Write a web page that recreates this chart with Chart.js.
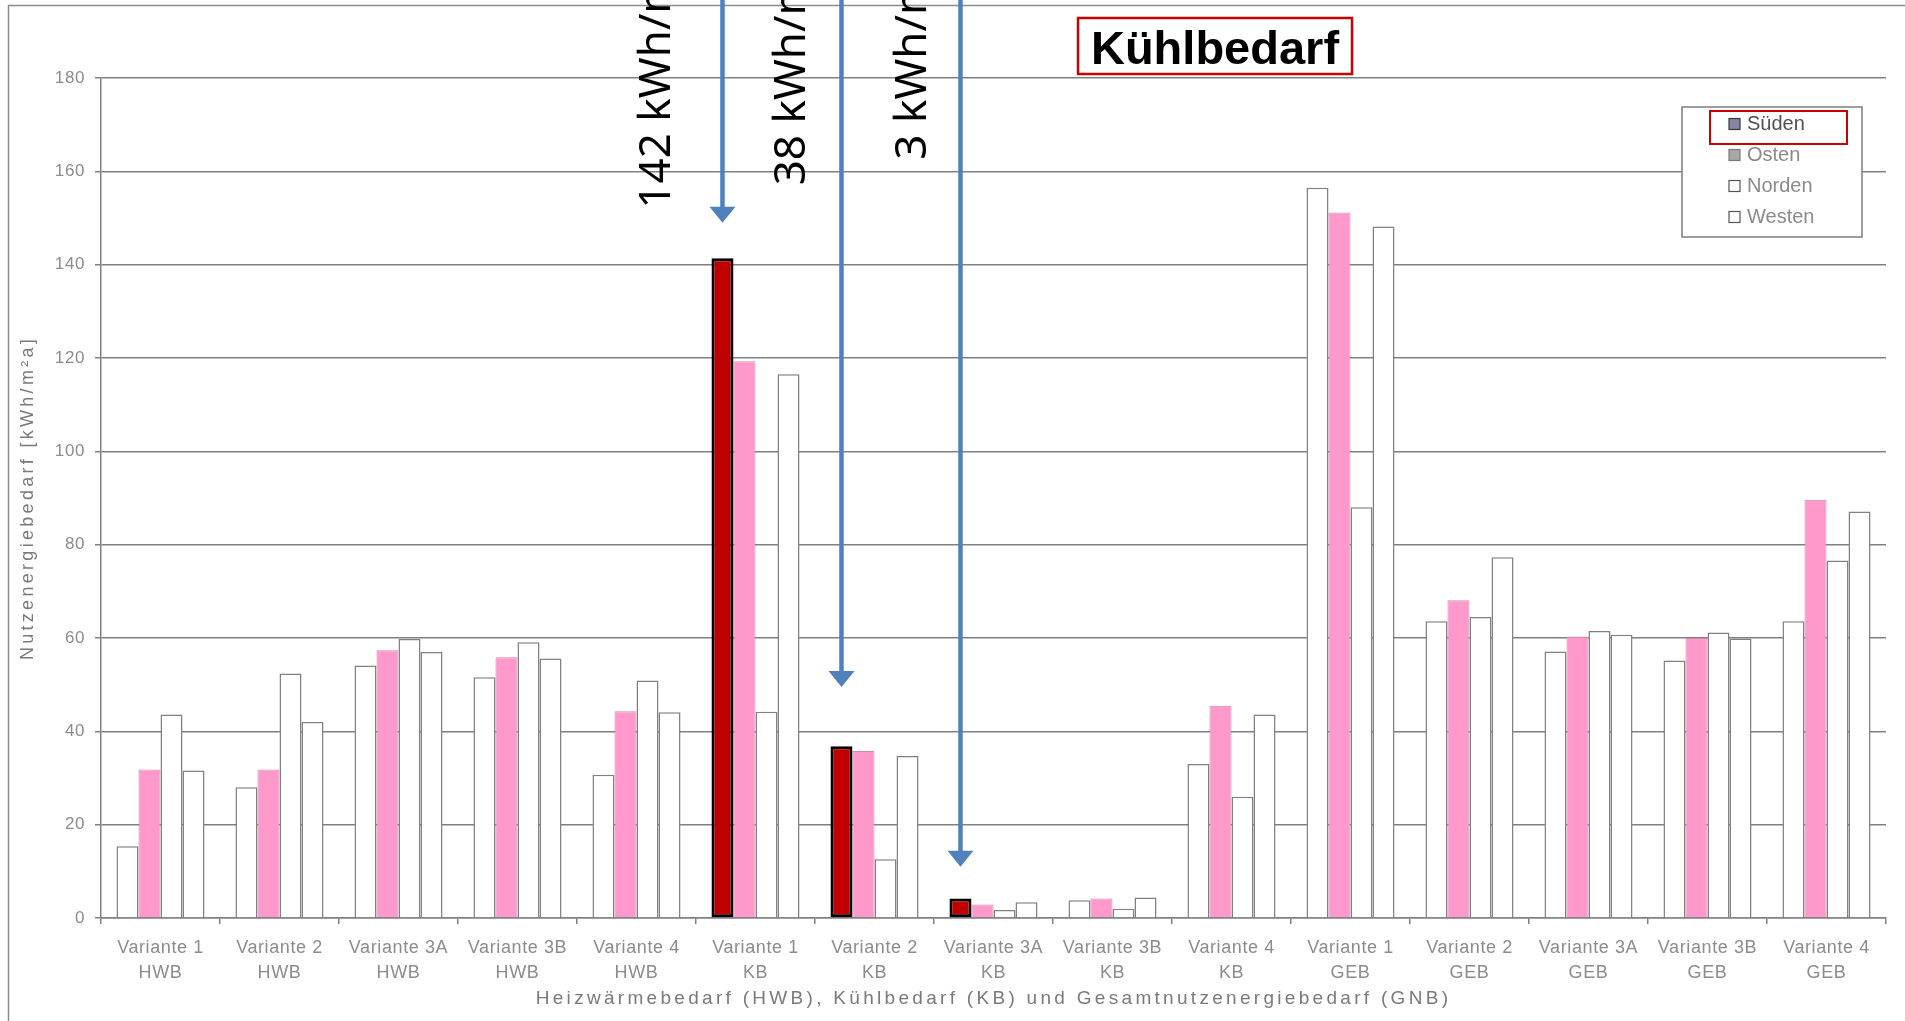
<!DOCTYPE html>
<html>
<head>
<meta charset="utf-8">
<script src="https://cdn.jsdelivr.net/npm/chart.js@4.4.1/dist/chart.umd.min.js"></script>
<style>
  html, body { margin: 0; padding: 0; background: #fff; }
  #wrap { width: 1905px; height: 1021px; }
</style>
</head>
<body>
<div id="wrap"><canvas id="nutzenergie" width="1905" height="1021"></canvas></div>
<script>
var variants = ['Variante 1', 'Variante 2', 'Variante 3A', 'Variante 3B', 'Variante 4'];
var parts = ['HWB', 'KB', 'GEB'];
var seriesNames = ['Süden', 'Osten', 'Norden', 'Westen'];

// kWh/m²a
var sueden = [15.4, 28.0, 54.1, 51.6, 30.7, 141.4, 36.8, 4.2, 3.8, 33.0, 156.5, 63.6, 57.1, 55.2, 63.6];
var osten  = [31.8, 31.8, 57.4, 55.9, 44.3, 119.3, 35.8, 2.9, 4.2, 45.5, 151.2, 68.1, 60.3, 60.0, 89.6];
var norden = [43.6, 52.4, 59.8, 59.1, 50.9, 44.2, 12.6, 1.7, 2.0, 26.0, 88.0, 64.5, 61.5, 61.2, 76.6];
var westen = [31.6, 42.0, 57.0, 55.6, 44.1, 116.5, 34.7, 3.4, 4.4, 43.6, 148.2, 77.3, 60.7, 59.9, 87.1];

// Süden bars painted red on the slide (KB Variante 1, 2, 3A)
var marked = [5, 6, 7];

var yMin = 0, yMax = 180, yStep = 20;

// arrows + rotated labels drawn over the chart
var callouts = [
  { text: '142 kWh/m²', bar: 5, tip: 149, textAt: 152, dx: -52 },
  { text: '38 kWh/m²', bar: 6, tip: 49.5, textAt: 157, dx: -36 },
  { text: '3 kWh/m²', bar: 7, tip: 11, textAt: 162.5, dx: -34 }
];

var labels = [];
parts.forEach(function(p) {
  variants.forEach(function(v) { labels.push([v, p]); });
});

var legendFill = ['#8585a3', '#a8a8a8', '#ffffff', '#ffffff'];
var legendEdge = ['#3a3a3a', '#7a7a7a', '#555555', '#555555'];

function isMarked(i) { return marked.indexOf(i) >= 0; }

var slideMarks = {
  id: 'slideMarks',
  beforeDraw: function(chart) {
    var ctx = chart.ctx;
    ctx.save();
    ctx.fillStyle = '#fff';
    ctx.fillRect(0, 0, chart.width, chart.height);
    ctx.strokeStyle = '#8c8c8c';
    ctx.lineWidth = 1.5;
    ctx.strokeRect(8.5, 5.5, chart.width + 20, chart.height + 20);
    ctx.restore();
    ctx.letterSpacing = '0.6px';
  },
  afterDraw: function(chart) {
    var ctx = chart.ctx, area = chart.chartArea, ys = chart.scales.y;

    // axis titles (spaced out like the original)
    ctx.save();
    ctx.fillStyle = '#7a7a7a';
    ctx.font = '18px "Liberation Sans"';
    ctx.letterSpacing = '3.3px';
    ctx.textAlign = 'center';
    ctx.textBaseline = 'middle';
    ctx.translate(28, (area.top + area.bottom) / 2);
    ctx.rotate(-Math.PI / 2);
    ctx.fillText('Nutzenergiebedarf [kWh/m²a]', 0, 0);
    ctx.restore();

    ctx.save();
    ctx.fillStyle = '#7a7a7a';
    ctx.font = '19px "Liberation Sans"';
    ctx.letterSpacing = '3.3px';
    ctx.textAlign = 'center';
    ctx.textBaseline = 'middle';
    ctx.fillText('Heizwärmebedarf (HWB), Kühlbedarf (KB) und Gesamtnutzenergiebedarf (GNB)', (area.left + area.right) / 2, 999);
    ctx.restore();

    // legend box
    ctx.save();
    ctx.letterSpacing = '0px';
    var lx = area.right - 204, ly = area.top + 29;
    ctx.fillStyle = '#fff';
    ctx.fillRect(lx, ly, 180, 130);
    ctx.strokeStyle = '#7f7f7f';
    ctx.lineWidth = 1.5;
    ctx.strokeRect(lx, ly, 180, 130);
    ctx.font = '20px "Liberation Sans"';
    ctx.textBaseline = 'middle';
    seriesNames.forEach(function(name, i) {
      var cy = ly + 17 + i * 31;
      ctx.fillStyle = legendFill[i];
      ctx.fillRect(lx + 47, cy - 5.5, 11, 11);
      ctx.strokeStyle = legendEdge[i];
      ctx.lineWidth = 1.2;
      ctx.strokeRect(lx + 47, cy - 5.5, 11, 11);
      ctx.fillStyle = i === 0 ? '#505050' : '#8a8a8a';
      ctx.fillText(name, lx + 65, cy);
    });
    ctx.strokeStyle = '#cc0000';
    ctx.lineWidth = 2;
    ctx.strokeRect(lx + 28, ly + 4, 137, 33);
    ctx.restore();

    // title box
    ctx.save();
    ctx.letterSpacing = '0px';
    ctx.fillStyle = '#fff';
    ctx.fillRect(1078, 18, 274, 56);
    ctx.strokeStyle = '#cc0000';
    ctx.lineWidth = 2.5;
    ctx.strokeRect(1078, 18, 274, 56);
    ctx.fillStyle = '#000';
    ctx.font = 'bold 47px "Liberation Sans"';
    ctx.textAlign = 'center';
    ctx.textBaseline = 'alphabetic';
    ctx.fillText('Kühlbedarf', 1215, 64);
    ctx.restore();

    // arrows and values
    var meta = chart.getDatasetMeta(0);
    callouts.forEach(function(c) {
      var x = meta.data[c.bar].x;
      var tipY = ys.getPixelForValue(c.tip);
      ctx.save();
      ctx.strokeStyle = '#4f81bd';
      ctx.fillStyle = '#4f81bd';
      ctx.lineWidth = 4.5;
      ctx.beginPath();
      ctx.moveTo(x, 0);
      ctx.lineTo(x, tipY - 12);
      ctx.stroke();
      ctx.beginPath();
      ctx.moveTo(x - 13, tipY - 16);
      ctx.lineTo(x + 13, tipY - 16);
      ctx.lineTo(x, tipY);
      ctx.closePath();
      ctx.fill();

      ctx.letterSpacing = '0px';
      ctx.translate(x + c.dx, ys.getPixelForValue(c.textAt));
      ctx.rotate(-Math.PI / 2);
      ctx.fillStyle = '#000';
      ctx.font = '44px "Noto Sans"';
      ctx.textAlign = 'left';
      ctx.textBaseline = 'alphabetic';
      ctx.fillText(c.text, 0, 0);
      ctx.restore();
    });
  }
};

new Chart(document.getElementById('nutzenergie'), {
  type: 'bar',
  data: {
    labels: labels,
    datasets: [
      {
        label: seriesNames[0],
        data: sueden,
        backgroundColor: sueden.map(function(v, i) { return isMarked(i) ? '#c00000' : '#ffffff'; }),
        borderColor: sueden.map(function(v, i) { return isMarked(i) ? '#000000' : '#808080'; }),
        borderWidth: sueden.map(function(v, i) { return isMarked(i) ? 3 : 1.5; }),
        borderSkipped: function(c) { return isMarked(c.dataIndex) ? false : 'start'; }
      },
      { label: seriesNames[1], data: osten, backgroundColor: '#ff99cc', borderColor: '#d08aae', borderWidth: 1 },
      { label: seriesNames[2], data: norden, backgroundColor: '#ffffff', borderColor: '#808080', borderWidth: 1.5 },
      { label: seriesNames[3], data: westen, backgroundColor: '#ffffff', borderColor: '#808080', borderWidth: 1.5 }
    ]
  },
  options: {
    responsive: false,
    animation: false,
    devicePixelRatio: 1,
    layout: { padding: { top: 78, right: 19, left: 0, bottom: 0 } },
    datasets: { bar: { categoryPercentage: 0.74, barPercentage: 1 } },
    plugins: { legend: { display: false }, tooltip: { enabled: false } },
    scales: {
      x: {
        grid: { offset: true, drawOnChartArea: false, tickLength: 6, color: '#808080', lineWidth: 1.5 },
        border: { color: '#808080', width: 1.5 },
        ticks: {
          color: '#8c8c8c',
          font: { family: 'Liberation Sans', size: 18, lineHeight: 1.39 },
          padding: 12,
          maxRotation: 0,
          autoSkip: false
        },
        afterFit: function(s) { s.height = 103; }
      },
      y: {
        min: yMin,
        max: yMax,
        ticks: {
          stepSize: yStep,
          color: '#8c8c8c',
          font: { family: 'Liberation Sans', size: 17 },
          padding: 10
        },
        grid: { color: '#808080', lineWidth: 1.5, tickLength: 6 },
        border: { color: '#808080', width: 1.5 },
        afterFit: function(s) { s.width = 101; }
      }
    }
  },
  plugins: [slideMarks]
});
</script>
</body>
</html>
